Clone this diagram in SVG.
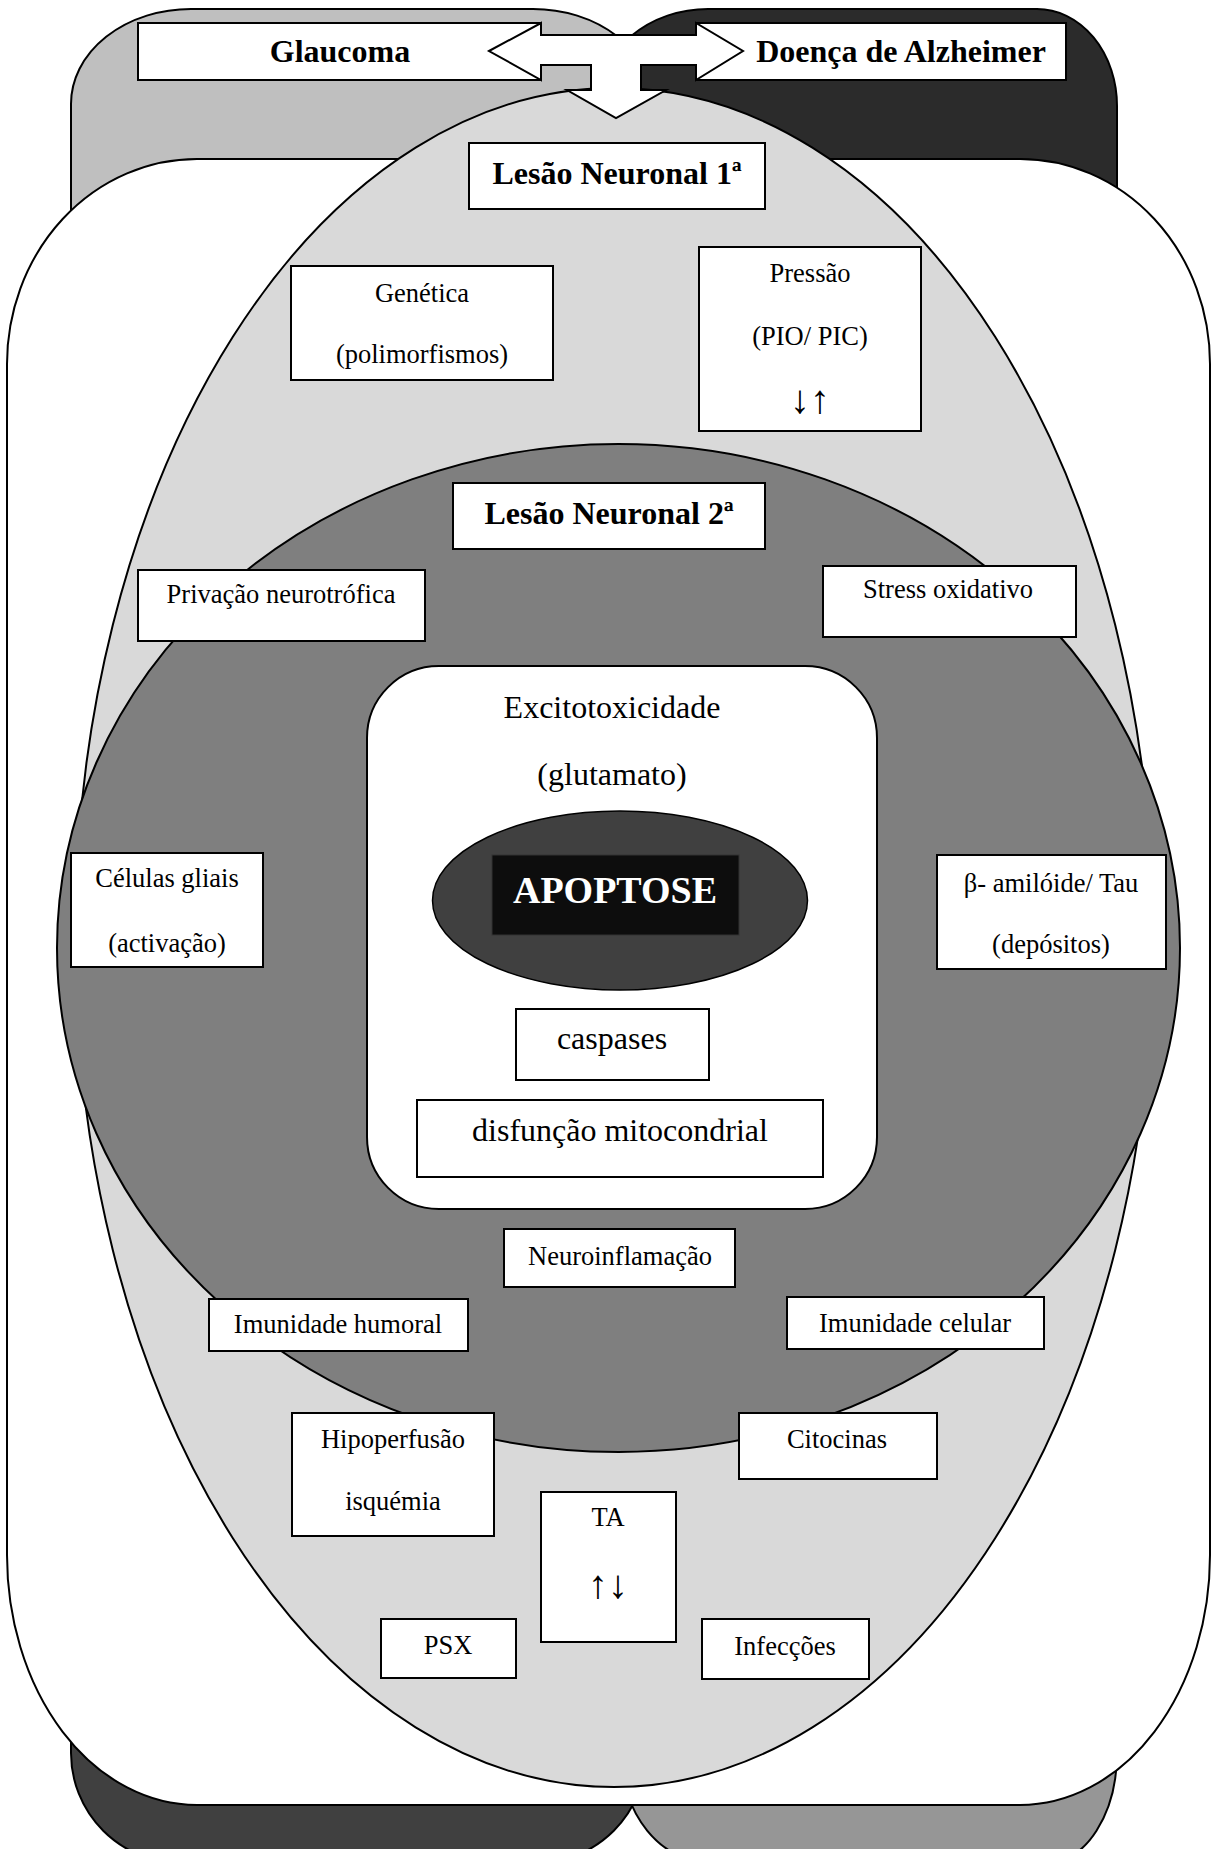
<svg xmlns="http://www.w3.org/2000/svg" width="1212" height="1849" viewBox="0 0 1212 1849">
<style>
.ol{stroke:#000;stroke-width:2;}
.box{fill:#fff;stroke:#000;stroke-width:2;}
.t{font-family:"Liberation Serif","Times New Roman",serif;font-size:26.5px;fill:#000;text-anchor:middle;}
.tl{font-family:"Liberation Serif","Times New Roman",serif;font-size:32px;fill:#000;text-anchor:middle;}
.tb{font-family:"Liberation Serif","Times New Roman",serif;font-size:32px;font-weight:bold;fill:#000;text-anchor:middle;}
.ar{font-family:"Liberation Serif","DejaVu Serif",serif;font-size:40px;fill:#000;text-anchor:middle;}
</style>
<rect x="0" y="0" width="1212" height="1849" fill="#fff"/>
<g id="background">
<path class="ol" fill="#bfbfbf" d="M191,9 H533 A120 95 0 0 1 653 104 V1000 H71 V104 A120 95 0 0 1 191 9 Z"/>
<path class="ol" fill="#2b2b2b" d="M708,9 H1037 A80 97 0 0 1 1117 106 V1000 H598 V104 A110 95 0 0 1 708 9 Z"/>
<path class="ol" fill="#404040" d="M71,1000 H646 V1753 A110 110 0 0 1 536 1863 H181 A110 110 0 0 1 71 1753 Z"/>
<path class="ol" fill="#969696" d="M621,1000 H1117 V1753 A70 110 0 0 1 1047 1863 H711 A90 110 0 0 1 621 1753 Z"/>
<path class="ol" fill="#fff" d="M197,159 H1020 A190 205 0 0 1 1210 364 V1555 A190 250 0 0 1 1020 1805 H197 A190 250 0 0 1 7 1555 V364 A190 205 0 0 1 197 159 Z"/>
<ellipse id="lesao1-zone" class="ol" fill="#d9d9d9" cx="614" cy="937.5" rx="539" ry="849.5"/>
<ellipse id="lesao2-zone" class="ol" fill="#7f7f7f" cx="618.5" cy="948" rx="561.5" ry="504"/>
<rect id="excito-zone" class="ol" fill="#fff" x="367" y="666" width="510" height="543" rx="72" ry="72"/>
</g>
<g id="glaucoma"><rect class="box" x="138" y="23" width="403" height="57"/><text class="tb" x="340" y="62">Glaucoma</text></g>
<g id="alzheimer"><rect class="box" x="696" y="23" width="370" height="57"/><text class="tb" x="901" y="62">Doença de Alzheimer</text></g>
<g id="connectors">
<path class="ol" fill="#fff" stroke-linejoin="miter" d="M489,51 L541,23 L541,35 L696,35 L696,23 L743,51 L696,80 L696,65 L641,65 L641,90 L666,90 L616,118 L567,90 L591,90 L591,65 L541,65 L541,80 Z"/>
</g>
<g id="lesao1"><rect class="box" x="469" y="143" width="296" height="66"/><text class="tb" x="617" y="184">Lesão Neuronal 1ª</text></g>
<g id="genetica"><rect class="box" x="291" y="266" width="262" height="114"/><text class="t" x="422" y="302">Genética</text><text class="t" x="422" y="363">(polimorfismos)</text></g>
<g id="pressao"><rect class="box" x="699" y="247" width="222" height="184"/><text class="t" x="810" y="282">Pressão</text><text class="t" x="810" y="345">(PIO/ PIC)</text><text class="ar" x="810" y="413">↓↑</text></g>
<g id="lesao2"><rect class="box" x="453" y="483" width="312" height="66"/><text class="tb" x="609" y="524">Lesão Neuronal 2ª</text></g>
<g id="privacao"><rect class="box" x="138" y="570" width="287" height="71"/><text class="t" x="281" y="603">Privação neurotrófica</text></g>
<g id="stress"><rect class="box" x="823" y="566" width="253" height="71"/><text class="t" x="948" y="598">Stress oxidativo</text></g>
<g id="gliais"><rect class="box" x="71" y="853" width="192" height="114"/><text class="t" x="167" y="887">Células gliais</text><text class="t" x="167" y="952">(activação)</text></g>
<g id="amiloide"><rect class="box" x="937" y="855" width="229" height="114"/><text class="t" x="1051" y="892">β- amilóide/ Tau</text><text class="t" x="1051" y="953">(depósitos)</text></g>
<g id="excitotoxicidade"><text class="tl" x="612" y="718">Excitotoxicidade</text><text class="tl" x="612" y="785">(glutamato)</text></g>
<g id="apoptose"><ellipse cx="620" cy="900.5" rx="187.5" ry="89.5" fill="#404040" stroke="#000" stroke-width="1.5"/><rect x="492" y="855" width="247" height="80" fill="#0d0d0d" stroke="#333" stroke-width="1"/><text class="tb" x="615" y="903" style="font-size:38px;fill:#fff">APOPTOSE</text></g>
<g id="caspases"><rect class="box" x="516" y="1009" width="193" height="71"/><text class="tl" x="612" y="1049">caspases</text></g>
<g id="mitocondrial"><rect class="box" x="417" y="1100" width="406" height="77"/><text class="tl" x="620" y="1141">disfunção mitocondrial</text></g>
<g id="neuroinflamacao"><rect class="box" x="504" y="1229" width="231" height="58"/><text class="t" x="620" y="1265">Neuroinflamação</text></g>
<g id="humoral"><rect class="box" x="209" y="1299" width="259" height="52"/><text class="t" x="338" y="1333">Imunidade humoral</text></g>
<g id="celular"><rect class="box" x="787" y="1297" width="257" height="52"/><text class="t" x="915" y="1332">Imunidade celular</text></g>
<g id="hipoperfusao"><rect class="box" x="292" y="1413" width="202" height="123"/><text class="t" x="393" y="1448">Hipoperfusão</text><text class="t" x="393" y="1510">isquémia</text></g>
<g id="citocinas"><rect class="box" x="739" y="1413" width="198" height="66"/><text class="t" x="837" y="1448">Citocinas</text></g>
<g id="ta"><rect class="box" x="541" y="1492" width="135" height="150"/><text class="t" x="608" y="1526">TA</text><text class="ar" x="608" y="1598">↑↓</text></g>
<g id="psx"><rect class="box" x="381" y="1619" width="135" height="59"/><text class="t" x="448" y="1654">PSX</text></g>
<g id="infeccoes"><rect class="box" x="702" y="1619" width="167" height="60"/><text class="t" x="785" y="1655">Infecções</text></g>
</svg>
